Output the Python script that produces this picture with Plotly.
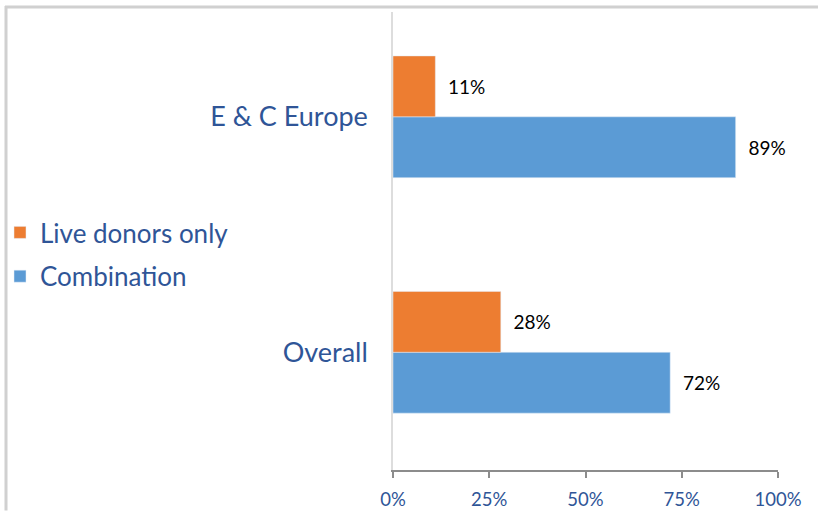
import plotly.graph_objects as go

categories = ["Overall", "E & C Europe"]
live_donors = [28, 11]
combination = [72, 89]
x_ticks = [0, 25, 50, 75, 100]
x_tick_labels = ["0%", "25%", "50%", "75%", "100%"]

TEXT_BLUE = "#2F5597"
FONT = "Lato, 'Open Sans', sans-serif"

fig = go.Figure()
fig.add_trace(go.Bar(
    y=categories, x=combination, orientation="h", name="Combination",
    legendgroup="combo", legendrank=2,
    marker=dict(color="#5B9BD5"),
    text=[f"\u00a0\u00a0{v}%" for v in combination], textposition="outside",
    textfont=dict(color="#000000", size=19, family=FONT), cliponaxis=False,
))
fig.add_trace(go.Bar(
    y=categories, x=live_donors, orientation="h", name="Live donors only",
    legendgroup="live", legendrank=1,
    marker=dict(color="#ED7D31"),
    text=[f"\u00a0\u00a0{v}%" for v in live_donors], textposition="outside",
    textfont=dict(color="#000000", size=19, family=FONT), cliponaxis=False,
))

W, H = 818, 511
L, R, T, B = 393, 40, 12, 40.5
pw, ph = W - L - R, H - T - B

def px(xp):
    return (xp - L) / pw

def py(yp):
    return 1 - (yp - T) / ph

border = dict(color="#D0D0D0", width=3)
fig.add_shape(type="line", xref="paper", yref="paper",
              x0=px(6), x1=px(6), y0=py(6), y1=py(H), line=border)
fig.add_shape(type="line", xref="paper", yref="paper",
              x0=px(5), x1=px(W), y0=py(7), y1=py(7), line=border)

fig.update_layout(
    width=W, height=H,
    margin=dict(l=L, r=R, t=T, b=B, autoexpand=False),
    paper_bgcolor="white", plot_bgcolor="white",
    barmode="group", bargap=0.483, bargroupgap=0,
    font=dict(family=FONT, color=TEXT_BLUE),
    showlegend=True,
    legend=dict(
        xref="container", yref="container",
        x=0.0, y=1 - 209 / H, xanchor="left", yanchor="top",
        traceorder="grouped", tracegroupgap=7,
        font=dict(size=26, color=TEXT_BLUE, family=FONT),
        bgcolor="rgba(0,0,0,0)", itemwidth=30,
    ),
    xaxis=dict(
        range=[0, 100], tickvals=x_ticks, ticktext=x_tick_labels,
        showgrid=False, zeroline=False,
        showline=True, linecolor="#8C8C8C", linewidth=1.5,
        ticks="outside", ticklen=6, tickcolor="#8C8C8C", tickwidth=1.5,
        ticklabelstandoff=6,
        tickfont=dict(size=18.5, color=TEXT_BLUE, family=FONT),
        fixedrange=True,
    ),
    yaxis=dict(
        range=[-0.5, 1.445], showgrid=False, zeroline=False,
        showline=True, linecolor="#DDDDDD", linewidth=1.5,
        ticks="", ticklabelstandoff=18,
        tickfont=dict(size=27, color=TEXT_BLUE, family=FONT),
        fixedrange=True,
    ),
)

fig.write_html("out.html", config={"displayModeBar": False},
               post_script="document.body.style.margin='0';document.body.style.padding='0';")
